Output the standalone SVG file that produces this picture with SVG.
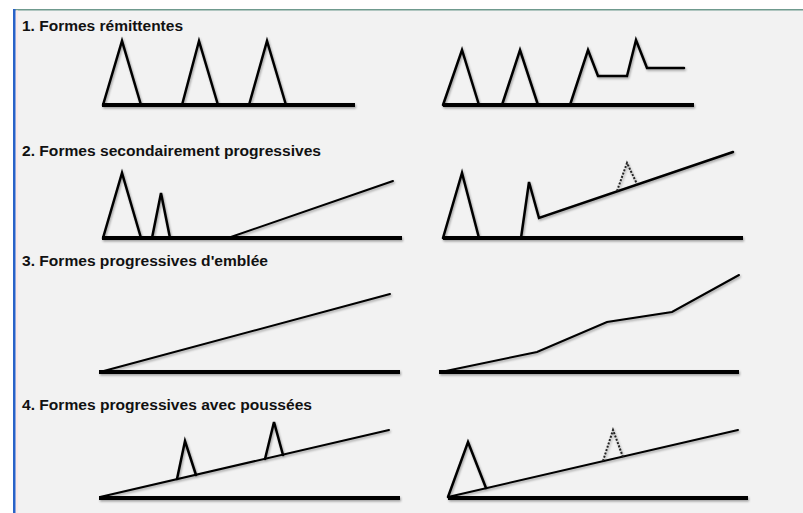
<svg xmlns="http://www.w3.org/2000/svg" width="803" height="513" viewBox="0 0 803 513">
<defs>
<filter id="sh" x="-5%" y="-20%" width="110%" height="140%">
<feDropShadow dx="1" dy="1.5" stdDeviation="1" flood-color="#000" flood-opacity="0.35"/>
</filter>
<style>
.t{font-family:"Liberation Sans",Arial,sans-serif;font-weight:bold;font-size:14px;fill:#111}
.base{stroke:#000;stroke-width:4;fill:none;stroke-linecap:butt}
.c{stroke:#000;stroke-width:2.5;fill:none;stroke-linejoin:miter;stroke-linecap:round}
.s{stroke:#000;stroke-width:2;fill:none;stroke-linecap:round}
.d{stroke:#222;stroke-width:2;fill:none;stroke-dasharray:2 1.5}
</style>
</defs>
<rect x="0" y="0" width="803" height="513" fill="#ffffff"/>
<rect x="14" y="9" width="789" height="504" fill="#f2f2f2"/>
<rect x="14" y="9" width="789" height="1.5" fill="#6f9a8e"/>
<rect x="13" y="9" width="2.5" height="504" fill="#2a62c8"/>
<rect x="16" y="10.5" width="2" height="502.5" fill="#fbe9e9"/>

<g id="panel1">
<text class="t" x="22" y="30.5" textLength="161" lengthAdjust="spacingAndGlyphs">1. Formes rémittentes</text>
<g filter="url(#sh)">
<line class="base" x1="102" y1="105" x2="355" y2="105"/>
<polyline class="c" points="103,105 122,41 141,105"/>
<polyline class="c" points="182,105 199,41 218,105"/>
<polyline class="c" points="249,105 267,41 286,105"/>
<line class="base" x1="443" y1="105" x2="694" y2="105"/>
<polyline class="c" points="443,105 462,50 479,105"/>
<polyline class="c" points="502,105 520,50 538,105"/>
<polyline class="c" points="570,105 588,50 598,76 627,76 636,40 647,68 684,68"/>
</g>
</g>

<g id="panel2">
<text class="t" x="22" y="156" textLength="299" lengthAdjust="spacingAndGlyphs">2. Formes secondairement progressives</text>
<g filter="url(#sh)">
<line class="base" x1="102" y1="238" x2="402" y2="238"/>
<polyline class="c" points="103,238 122,173 141,238"/>
<polyline class="c" points="152,238 161,193 170,238"/>
<line class="s" x1="228" y1="238" x2="393" y2="181"/>
<line class="base" x1="443" y1="238" x2="743" y2="238"/>
<polyline class="c" points="443,238 462,173 479,238"/>
<polyline class="c" points="521,238 529,182 539,218 733,152"/>
<polyline class="d" points="617,191 627,163 637,184"/>
</g>
</g>

<g id="panel3">
<text class="t" x="22" y="265.5" textLength="246" lengthAdjust="spacingAndGlyphs">3. Formes progressives d'emblée</text>
<g filter="url(#sh)">
<line class="base" x1="99" y1="372" x2="400" y2="372"/>
<line class="s" x1="100" y1="372" x2="390" y2="294"/>
<line class="base" x1="439" y1="372" x2="739" y2="372"/>
<polyline class="s" points="441,372 537,352 607,322 672,312 739,275"/>
</g>
</g>

<g id="panel4">
<text class="t" x="22" y="410" textLength="290" lengthAdjust="spacingAndGlyphs">4. Formes progressives avec poussées</text>
<g filter="url(#sh)">
<line class="base" x1="99" y1="498" x2="400" y2="498"/>
<line class="s" x1="100" y1="497" x2="389" y2="430"/>
<polyline class="c" points="177,479 185,441 196,475"/>
<polyline class="c" points="265,459 274,422 283,455"/>
<line class="base" x1="448" y1="498" x2="748" y2="498"/>
<line class="s" x1="448" y1="497" x2="738" y2="430"/>
<polyline class="c" points="448,497 468,442 486,488"/>
<polyline class="d" points="603,461 613,430 623,457"/>
</g>
</g>
</svg>
